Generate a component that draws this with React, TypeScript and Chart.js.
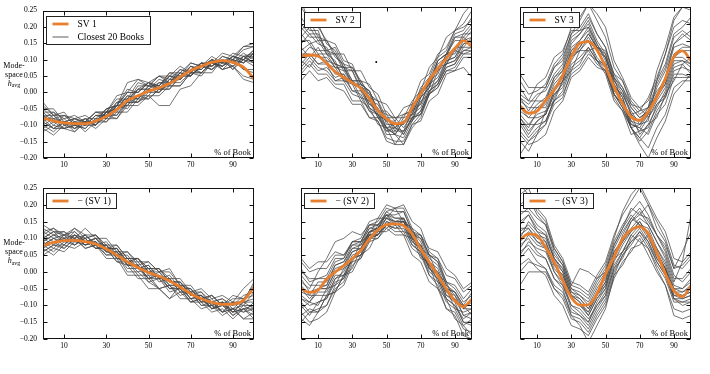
import React, { useEffect, useRef } from 'react';
import { Chart, registerables } from 'chart.js';

Chart.register(...registerables);

// ---------- data ----------
const X_PCT = [0, 5, 10, 15, 20, 25, 30, 35, 40, 45, 50, 55, 60, 65, 70, 75, 80, 85, 90, 95, 100];
const X_TICKS = [10, 30, 50, 70, 90];
const X_TICK_LABELS = ['10', '30', '50', '70', '90'];
const Y_TICKS = [-0.2, -0.15, -0.1, -0.05, 0, 0.05, 0.1, 0.15, 0.2, 0.25];
const Y_TICK_LABELS = ['\u22120.20', '\u22120.15', '\u22120.10', '\u22120.05', '0.00', '0.05', '0.10', '0.15', '0.20', '0.25'];
const X_LABEL = '% of Book';
const Y_LABEL_LINES = ['Mode-', 'space'];
const Y_LABEL_SYMBOL = 'h';
const Y_LABEL_SUB = 'avg';
const BOOKS_LABEL = 'Closest 20 Books';
const SERIES_LABELS = ['SV 1', 'SV 2', 'SV 3', '\u2212 (SV 1)', '\u2212 (SV 2)', '\u2212 (SV 3)'];

const SV1 = [-.078, -.087, -.093, -.095, -.095, -.087, -.073, -.052, -.025, -.010, .004, .014, .027, .047, .067, .080, .092, .097, .092, .077, .042];
const SV2 = [.102, .107, .104, .082, .057, .040, .024, .007, -.023, -.058, -.083, -.098, -.095, -.050, -.008, .032, .067, .097, .127, .150, .132];
const SV3 = [-.046, -.066, -.060, -.028, .002, .047, .102, .142, .147, .122, .072, .012, -.038, -.078, -.088, -.063, -.018, .037, .102, .119, .090];
const NEG_SV1 = [.078, .088, .093, .094, .090, .083, .068, .050, .030, .013, -.002, -.013, -.027, -.045, -.065, -.080, -.091, -.097, -.096, -.085, -.046];
const NEG_SV2 = [-.051, -.061, -.054, -.021, -.001, .019, .039, .064, .098, .125, .141, .143, .138, .113, .068, .029, -.011, -.051, -.086, -.104, -.081];
const NEG_SV3 = [.095, .113, .108, .073, .029, -.026, -.076, -.099, -.098, -.066, -.006, .044, .098, .125, .135, .113, .058, -.006, -.056, -.074, -.041];

const SV1_BOOKS = [
  [-.05, -.08, -.07, -.10, -.08, -.08, -.05, -.04, .00, .00, .03, .02, .05, .04, .07, .09, .08, .11, .10, .13, .14],
  [-.09, -.11, -.09, -.11, -.10, -.10, -.07, -.07, -.03, -.03, .00, .00, .03, .04, .07, .06, .09, .08, .10, .09, .12],
  [-.07, -.07, -.10, -.09, -.10, -.07, -.07, -.03, -.02, .01, .01, .03, .02, .06, .05, .08, .10, .09, .11, .10, .13],
  [-.11, -.09, -.11, -.10, -.11, -.08, -.09, -.06, -.06, -.02, -.02, .01, .01, .05, .05, .08, .08, .10, .07, .10, .09],
  [-.03, -.07, -.07, -.09, -.08, -.10, -.06, -.04, .03, .04, .02, .02, .06, .05, .08, .06, .09, .08, .11, .10, .13],
  [-.08, -.11, -.11, -.12, -.09, -.09, -.06, -.05, -.01, -.02, .01, .00, .04, .04, .07, .07, .10, .07, .08, .05, .04],
  [-.06, -.06, -.08, -.07, -.09, -.06, -.06, -.01, .00, .04, .03, .05, .04, .07, .06, .09, .08, .11, .10, .14, .15],
  [-.10, -.12, -.09, -.10, -.09, -.11, -.08, -.08, -.03, -.03, .01, .00, .03, .03, .06, .06, .09, .08, .11, .09, .12],
  [-.08, -.08, -.11, -.08, -.09, -.06, -.07, -.03, -.03, .01, .03, .01, .02, .02, .06, .06, .09, .07, .10, .07, .06],
  [-.04, -.07, -.06, -.10, -.09, -.10, -.06, -.07, -.02, -.02, .02, .02, .05, .05, .09, .08, .11, .09, .12, .11, .12],
  [-.12, -.10, -.11, -.10, -.11, -.08, -.08, -.04, -.04, -.01, -.02, .01, .01, .05, .05, .08, .07, .10, .08, .11, .09],
  [-.09, -.07, -.10, -.09, -.12, -.09, -.09, -.05, -.04, .01, .01, .04, .03, .06, .05, .08, .07, .09, .08, .10, .08],
  [-.07, -.10, -.07, -.08, -.07, -.09, -.06, -.06, -.02, -.03, -.01, -.04, -.04, .01, .02, .06, .06, .10, .09, .12, .10],
  [-.06, -.09, -.09, -.12, -.09, -.09, -.05, -.04, .00, .00, .03, .02, .06, .06, .09, .08, .10, .07, .08, .04, .03],
  [-.10, -.08, -.09, -.08, -.10, -.07, -.07, -.04, -.05, -.01, -.01, .03, .03, .06, .05, .09, .09, .12, .11, .14, .14],
  [-.08, -.06, -.10, -.09, -.10, -.07, -.08, -.04, -.03, .02, .02, .05, .03, .07, .06, .09, .07, .10, .07, .11, .11],
  [-.09, -.11, -.09, -.10, -.09, -.10, -.06, -.05, -.01, -.02, .02, .01, .04, .04, .08, .07, .10, .09, .11, .10, .12],
  [-.05, -.05, -.09, -.08, -.09, -.06, -.06, -.02, -.02, .03, .02, .05, .05, .08, .06, .09, .08, .10, .09, .11, .09],
  [-.11, -.13, -.10, -.11, -.08, -.10, -.07, -.08, -.04, -.04, -.01, -.01, .02, .02, .06, .05, .09, .08, .10, .09, .11],
  [-.07, -.09, -.08, -.11, -.09, -.09, -.05, -.04, .01, .00, .03, .01, .05, .04, .08, .07, .10, .09, .10, .07, .07],
];

const SV2_BOOKS = [
  [.20, .17, .17, .12, .11, .06, .06, .01, -.01, -.07, -.09, -.13, -.09, -.07, -.01, .02, .08, .10, .16, .17, .20],
  [.15, .15, .11, .11, .07, .06, .02, .01, -.05, -.07, -.12, -.12, -.12, -.06, -.04, .03, .05, .11, .12, .17, .17],
  [.25, .21, .20, .14, .12, .07, .06, .00, -.02, -.08, -.08, -.11, -.07, -.06, .01, .04, .10, .12, .18, .20, .24],
  [.08, .11, .08, .08, .03, .03, -.01, -.02, -.06, -.07, -.13, -.13, -.14, -.09, -.06, .00, .02, .07, .08, .12, .12],
  [.12, .14, .10, .10, .07, .07, .02, .02, -.03, -.04, -.09, -.09, -.13, -.08, -.07, -.01, .01, .06, .07, .11, .12],
  [.18, .21, .16, .15, .10, .08, .03, .03, -.01, -.03, -.08, -.08, -.08, -.03, .00, .07, .10, .16, .18, .23, .26],
  [.05, .08, .05, .05, .02, .02, -.03, -.03, -.08, -.09, -.14, -.15, -.15, -.10, -.09, -.03, -.01, .05, .06, .10, .10],
  [.10, .13, .12, .12, .08, .07, .03, .03, -.02, -.03, -.10, -.10, -.10, -.04, -.02, .04, .06, .11, .11, .16, .14],
  [.22, .18, .18, .11, .09, .03, .02, -.03, -.05, -.10, -.11, -.13, -.09, -.09, -.03, -.01, .06, .08, .13, .13, .16],
  [.14, .17, .14, .13, .08, .07, .02, .01, -.04, -.05, -.11, -.13, -.16, -.10, -.07, .00, .03, .09, .10, .14, .15],
  [.09, .07, .11, .08, .07, .03, .03, .01, .00, -.06, -.06, -.09, -.05, -.04, .03, .05, .11, .13, .18, .19, .21],
  [.17, .14, .15, .11, .11, .07, .07, .02, .00, -.06, -.07, -.11, -.09, -.08, -.02, .01, .07, .08, .12, .11, .11],
  [.03, .06, .03, .04, .01, .00, -.04, -.04, -.08, -.08, -.12, -.11, -.12, -.08, -.07, -.01, .01, .06, .06, .07, .04],
  [.13, .10, .13, .09, .08, .04, .03, -.02, -.03, -.08, -.11, -.16, -.12, -.09, -.02, .01, .09, .11, .17, .18, .22],
  [.19, .16, .16, .12, .13, .08, .07, .03, .02, -.03, -.04, -.08, -.07, -.06, .00, .03, .09, .11, .16, .16, .19],
  [.07, .10, .07, .06, .03, .04, .00, .00, -.05, -.07, -.11, -.11, -.13, -.08, -.06, .00, .02, .07, .08, .13, .13],
  [.27, .20, .19, .15, .14, .09, .08, .02, .00, -.06, -.08, -.12, -.08, -.07, -.01, .02, .09, .11, .15, .15, .18],
  [.11, .11, .08, .09, .05, .05, .02, .01, -.04, -.06, -.11, -.10, -.10, -.05, -.04, .02, .04, .09, .10, .15, .16],
  [.16, .19, .15, .15, .11, .11, .06, .06, .01, -.01, -.07, -.08, -.11, -.07, -.05, .01, .03, .08, .09, .12, .13],
  [.06, .09, .06, .07, .04, .05, .00, -.01, -.06, -.09, -.15, -.16, -.16, -.11, -.08, -.01, .02, .08, .09, .14, .15],
];

const SV3_BOOKS = [
  [-.02, -.06, -.02, .01, .07, .09, .17, .19, .23, .17, .13, .04, .00, -.07, -.09, -.05, .02, .07, .16, .18, .16],
  [-.10, -.14, -.11, -.09, -.03, .00, .07, .09, .12, .08, .06, -.02, -.06, -.11, -.15, -.12, -.06, -.02, .06, .07, .06],
  [.03, -.01, .00, .02, .08, .11, .19, .22, .26, .21, .16, .07, .03, -.03, -.06, -.02, .04, .11, .21, .25, .24],
  [-.07, -.10, -.07, -.06, .00, .03, .10, .12, .15, .10, .07, -.01, -.04, -.09, -.12, -.08, -.03, .01, .09, .09, .07],
  [-.15, -.18, -.13, -.10, -.04, -.02, .06, .08, .13, .09, .07, .00, -.03, -.11, -.14, -.17, -.11, -.07, .01, .03, .03],
  [-.04, -.07, -.04, -.02, .04, .06, .13, .15, .18, .12, .08, .01, -.01, -.07, -.06, -.05, .06, .13, .22, .25, .26],
  [-.01, -.03, .02, .04, .10, .12, .18, .18, .19, .13, .11, .04, .01, -.04, -.07, -.05, .00, .03, .10, .10, .08],
  [-.09, -.13, -.09, -.07, -.01, .02, .09, .13, .17, .13, .10, .02, -.02, -.10, -.11, -.07, -.02, .02, .10, .12, .12],
  [-.19, -.15, -.13, -.06, -.03, .03, .06, .12, .12, .13, .07, .04, -.04, -.07, -.13, -.10, -.08, -.01, .03, .08, .05],
  [.01, -.03, -.03, -.03, .03, .06, .14, .17, .21, .15, .11, .03, -.01, -.06, -.10, -.07, -.01, .04, .13, .14, .13],
  [-.06, -.08, -.08, -.07, .00, .04, .12, .14, .15, .09, .05, -.03, -.06, -.13, -.12, -.11, -.04, -.01, .07, .08, .10],
  [-.12, -.15, -.12, -.10, -.02, .03, .11, .12, .16, .12, .10, .03, .00, -.05, -.08, -.06, .01, .06, .14, .16, .18],
  [-.03, -.05, -.05, -.05, .01, .04, .11, .13, .17, .13, .12, .05, .03, -.04, -.05, -.08, -.04, -.02, .05, .05, .04],
  [-.08, -.11, -.06, -.04, .02, .05, .12, .15, .19, .14, .10, .02, -.02, -.09, -.10, -.06, -.02, .04, .14, .17, .15],
  [.05, .01, .01, .01, .07, .10, .17, .21, .26, .23, .19, .09, .04, -.02, -.05, -.03, .03, .08, .17, .19, .22],
  [-.10, -.10, -.10, -.09, -.03, -.01, .05, .07, .11, .09, .08, .01, -.03, -.11, -.16, -.20, -.14, -.09, -.01, .02, .05],
  [-.05, -.08, -.05, -.03, .04, .07, .15, .17, .20, .14, .09, -.01, -.05, -.11, -.10, -.09, .03, .11, .19, .21, .20],
  [-.13, -.16, -.15, -.13, -.06, -.03, .04, .06, .10, .07, .06, -.01, -.04, -.10, -.11, -.13, -.07, -.04, .04, .04, .04],
  [-.02, -.04, -.01, .00, .05, .08, .16, .18, .22, .17, .13, .05, .01, -.05, -.08, -.06, -.01, .02, .11, .13, .13],
  [-.08, -.12, -.09, -.07, -.01, .01, .08, .10, .13, .09, .06, -.01, -.05, -.11, -.14, -.10, -.05, .00, .08, .09, .08],
];

const NEG_SV1_BOOKS = [
  [.10, .12, .09, .11, .10, .11, .07, .07, .03, .03, -.01, -.01, -.04, -.04, -.08, -.07, -.10, -.09, -.12, -.11, -.13],
  [.06, .08, .07, .10, .07, .08, .05, .05, .00, .00, -.03, -.02, -.06, -.05, -.09, -.08, -.11, -.10, -.11, -.08, -.07],
  [.13, .11, .12, .10, .11, .08, .08, .04, .04, .01, .02, -.02, -.01, -.05, -.05, -.09, -.09, -.12, -.11, -.14, -.12],
  [.08, .10, .09, .12, .09, .09, .05, .06, .02, .02, -.02, -.01, -.05, -.05, -.08, -.07, -.09, -.08, -.10, -.07, -.06],
  [.05, .07, .06, .09, .08, .10, .07, .07, .03, .04, .01, .01, -.03, -.03, -.07, -.07, -.10, -.09, -.12, -.11, -.14],
  [.11, .09, .10, .08, .11, .08, .08, .04, .03, -.01, -.01, -.05, -.04, -.07, -.06, -.10, -.10, -.13, -.11, -.12, -.09],
  [.09, .11, .10, .13, .10, .11, .07, .08, .04, .04, .00, .01, -.02, -.02, -.06, -.05, -.08, -.07, -.09, -.05, -.02],
  [.07, .09, .07, .10, .07, .08, .04, .04, -.01, -.01, -.05, -.05, -.08, -.06, -.09, -.08, -.11, -.09, -.12, -.09, -.08],
  [.12, .10, .11, .08, .10, .07, .08, .05, .06, .03, .03, .00, .00, -.04, -.04, -.08, -.07, -.10, -.09, -.12, -.11],
  [.08, .10, .08, .11, .09, .10, .07, .07, .02, .02, -.02, -.02, -.05, -.05, -.09, -.09, -.12, -.11, -.14, -.11, -.10],
  [.10, .08, .11, .10, .13, .10, .10, .06, .06, .02, .03, .00, .01, -.04, -.05, -.09, -.07, -.10, -.08, -.08, -.04],
  [.06, .08, .08, .11, .08, .09, .06, .05, .01, .01, -.02, .00, -.03, -.03, -.06, -.06, -.10, -.09, -.10, -.09, -.11],
  [.11, .13, .11, .12, .09, .10, .06, .06, .02, .02, -.03, -.05, -.08, -.04, -.07, -.07, -.11, -.10, -.12, -.09, -.09],
  [.09, .07, .10, .09, .10, .07, .07, .03, .03, .00, .01, -.03, -.02, -.06, -.06, -.10, -.09, -.12, -.09, -.10, -.06],
  [.14, .12, .12, .09, .11, .08, .09, .05, .05, .01, .01, -.02, -.02, -.06, -.06, -.09, -.08, -.12, -.11, -.14, -.14],
  [.07, .05, .08, .07, .09, .07, .08, .04, .04, .01, .02, -.02, -.02, -.05, -.05, -.08, -.07, -.10, -.07, -.08, -.05],
  [.10, .12, .11, .13, .11, .11, .08, .08, .04, .04, .01, .01, -.03, -.03, -.07, -.07, -.11, -.09, -.13, -.11, -.11],
  [.08, .06, .09, .08, .10, .07, .07, .03, .02, -.02, -.02, -.05, -.04, -.08, -.08, -.11, -.10, -.12, -.09, -.09, -.03],
  [.12, .13, .10, .11, .08, .09, .06, .07, .03, .04, .00, .00, -.04, -.04, -.07, -.06, -.09, -.08, -.11, -.10, -.10],
  [.09, .11, .09, .10, .08, .09, .06, .06, .02, .02, -.02, -.01, -.05, -.04, -.08, -.08, -.11, -.10, -.13, -.10, -.12],
];

const NEG_SV2_BOOKS = [
  [-.10, -.13, -.09, -.08, -.03, -.02, .04, .06, .12, .13, .17, .16, .16, .10, .08, .02, -.01, -.07, -.09, -.15, -.16],
  [.03, .00, .01, .01, .05, .05, .08, .08, .12, .12, .16, .15, .16, .11, .10, .05, .04, -.01, -.02, -.06, -.04],
  [-.15, -.12, -.12, -.07, -.06, -.01, .01, .07, .09, .14, .13, .15, .12, .11, .05, .02, -.05, -.08, -.14, -.16, -.19],
  [-.05, -.08, -.05, -.04, .01, .02, .06, .07, .12, .13, .18, .19, .20, .15, .13, .06, .04, -.03, -.05, -.09, -.07],
  [-.08, -.10, -.09, -.08, -.02, .00, .05, .06, .11, .11, .14, .12, .12, .07, .05, -.01, -.03, -.09, -.11, -.16, -.14],
  [.01, -.03, -.02, -.01, .04, .04, .09, .09, .14, .15, .19, .18, .18, .12, .10, .04, .02, -.04, -.06, -.11, -.09],
  [-.12, -.15, -.14, -.12, -.06, -.04, .02, .04, .10, .11, .15, .14, .15, .10, .08, .02, .00, -.06, -.08, -.13, -.12],
  [-.03, -.05, .00, .04, .09, .10, .12, .11, .14, .14, .17, .14, .14, .09, .07, .01, -.01, -.06, -.07, -.11, -.11],
  [-.07, -.09, -.06, -.06, -.01, -.01, .04, .05, .10, .10, .13, .11, .11, .05, .03, -.03, -.05, -.11, -.12, -.17, -.18],
  [-.02, -.06, -.05, -.05, .00, .02, .07, .08, .13, .14, .17, .15, .15, .10, .08, .02, .00, -.05, -.06, -.10, -.06],
  [-.11, -.09, -.10, -.05, -.04, .01, .03, .09, .11, .16, .16, .19, .15, .13, .07, .05, -.01, -.03, -.09, -.10, -.13],
  [.04, .01, .03, .03, .06, .05, .09, .09, .13, .13, .16, .14, .15, .11, .11, .07, .06, .01, -.01, -.05, -.03],
  [-.14, -.16, -.12, -.10, -.05, -.03, .03, .04, .09, .10, .14, .13, .14, .08, .06, -.01, -.04, -.11, -.13, -.19, -.20],
  [-.06, -.07, -.03, -.03, .02, .03, .08, .09, .14, .14, .18, .16, .16, .10, .07, .01, -.02, -.08, -.10, -.14, -.12],
  [-.09, -.12, -.11, -.10, -.04, -.02, .04, .05, .11, .12, .16, .15, .15, .09, .07, .01, -.01, -.07, -.08, -.11, -.08],
  [.00, -.02, -.02, -.02, .03, .04, .09, .10, .15, .16, .20, .19, .19, .13, .11, .05, .03, -.03, -.04, -.08, -.05],
  [-.04, -.07, -.07, -.07, -.02, -.01, .04, .05, .10, .11, .14, .13, .13, .08, .06, .00, -.02, -.08, -.10, -.15, -.15],
  [-.13, -.11, -.12, -.07, -.06, -.01, .00, .05, .07, .12, .12, .14, .11, .10, .04, .03, -.03, -.05, -.11, -.12, -.11],
  [-.08, -.09, -.05, -.05, .00, .01, .06, .07, .12, .13, .17, .17, .18, .12, .09, .03, .01, -.05, -.06, -.10, -.10],
  [-.01, -.04, -.04, -.04, .02, .03, .07, .07, .11, .11, .15, .14, .16, .12, .11, .05, .03, -.04, -.07, -.13, -.14],
];

const NEG_SV3_BOOKS = [
  [.14, .17, .13, .11, .04, .00, -.07, -.08, -.11, -.06, -.02, .06, .10, .15, .18, .14, .09, .04, -.04, -.05, -.03],
  [.05, .09, .07, .06, .00, -.03, -.10, -.12, -.15, -.10, -.06, .02, .06, .09, .11, .07, .02, -.02, -.09, -.09, -.08],
  [.20, .22, .17, .14, .06, .02, -.05, -.06, -.08, -.03, .01, .09, .14, .18, .21, .17, .11, .06, -.02, -.02, .01],
  [.09, .12, .09, .07, .00, -.04, -.11, -.13, -.16, -.11, -.07, .01, .04, .10, .13, .09, .04, .00, -.07, -.08, -.07],
  [.23, .25, .19, .16, .08, .04, -.03, -.04, -.06, -.01, .03, .11, .17, .21, .25, .20, .15, .10, .02, .01, .04],
  [.02, .04, .01, -.01, -.07, -.10, -.16, -.17, -.19, -.14, -.10, -.02, .03, .06, .10, .05, .00, -.04, -.11, -.12, -.11],
  [.12, .14, .11, .10, .04, .01, -.06, -.07, -.10, -.05, -.01, .07, .12, .16, .19, .15, .11, .08, .01, .02, .05],
  [.07, .11, .08, .07, .01, -.02, -.08, -.10, -.13, -.08, -.04, .04, .09, .12, .15, .11, .06, .01, -.07, -.07, -.06],
  [.17, .19, .16, .14, .07, .03, -.04, .01, .00, -.02, .00, .08, .13, .17, .14, .13, .07, .02, -.06, -.07, -.06],
  [.04, .07, .03, .01, -.05, -.08, -.14, -.15, -.18, -.13, -.09, -.01, .02, .07, .08, .11, .04, .01, -.06, -.06, -.05],
  [.10, .15, .12, .11, .04, .01, -.06, -.08, -.11, -.07, -.04, .04, .11, .16, .14, .12, .06, .01, -.08, -.10, -.09],
  [.00, .03, .02, .01, -.04, -.06, -.12, -.13, -.15, -.09, -.05, .04, .06, .11, .14, .10, .05, .01, -.05, -.06, -.04],
  [.15, .17, .12, .09, .02, -.01, -.08, -.10, -.12, -.07, -.03, .06, .09, .15, .17, .20, .13, .09, .01, .06, .12],
  [.08, .10, .06, .04, -.02, -.04, -.10, -.11, -.14, -.10, -.07, .01, .06, .11, .09, .07, .01, -.04, -.13, -.14, -.13],
  [.26, .23, .18, .15, .07, .03, -.04, -.05, -.07, -.02, .02, .10, .18, .23, .26, .21, .16, .12, .04, .03, .06],
  [.06, .08, .05, .04, -.02, -.05, -.13, -.16, -.21, -.16, -.11, -.01, .05, .09, .12, .08, .03, -.01, -.08, -.08, -.07],
  [.11, .13, .09, .08, .02, -.01, -.07, -.09, -.12, -.07, -.03, .05, .09, .13, .16, .14, .09, .05, -.03, .03, .17],
  [-.04, .00, .00, .00, -.05, -.07, -.13, -.14, -.17, -.12, -.08, .00, .05, .08, .12, .09, .03, -.01, -.08, -.09, -.09],
  [.18, .18, .14, .12, .05, .02, -.05, -.07, -.09, -.04, .00, .08, .13, .19, .17, .16, .11, .07, -.01, -.03, .00],
  [.13, .13, .10, .09, .03, .00, -.07, -.09, -.13, -.08, -.05, .03, .08, .12, .15, .11, .07, .03, -.05, -.05, -.02],
];

// the stray dot in the SV 2 panel
const SV2_DOT_X = [44];
const SV2_DOT_Y = [0.086];

const MAIN_SERIES = [SV1, SV2, SV3, NEG_SV1, NEG_SV2, NEG_SV3];
const BOOK_SERIES = [SV1_BOOKS, SV2_BOOKS, SV3_BOOKS, NEG_SV1_BOOKS, NEG_SV2_BOOKS, NEG_SV3_BOOKS];

// ---------- layout / style ----------
const W = 710;
const H = 374;
const COL_LEFT = [43, 261, 480];
const ROW_TOP = [7, 188];
const PLOT_W = 211;
const PLOT_H = 151;
const Y_AXIS_W = 40;
const X_AXIS_H = 16;
const ORANGE = '#e87f2e';
const GRAY = 'rgba(72,72,72,0.8)';
const SERIF = "'Liberation Serif', 'DejaVu Serif', serif";
const TICK_FONT = 7.5;
const LEGEND_FONT = 9.5;

function makeChart(canvas: HTMLCanvasElement, idx: number) {
  const col = idx % 3;
  const row = Math.floor(idx / 3);
  const L = COL_LEFT[col];
  const T = ROW_TOP[row];
  const showY = col === 0;
  const showBooksLegend = idx === 0;
  const main = MAIN_SERIES[idx];
  const books = BOOK_SERIES[idx];

  const datasets: any[] = [
    {
      label: SERIES_LABELS[idx],
      data: X_PCT.map((x, i) => ({ x, y: main[i] })),
      borderColor: ORANGE,
      borderWidth: 2.8,
      pointRadius: 0,
      tension: 0.4,
      cubicInterpolationMode: 'monotone',
      order: 0,
    },
    ...books.map((b, k) => ({
      label: k === 0 ? BOOKS_LABEL : '',
      data: X_PCT.map((x, i) => ({ x, y: b[i] })),
      borderColor: GRAY,
      borderWidth: 0.95,
      pointRadius: 0,
      tension: 0,
      order: 1,
    })),
  ];
  if (idx === 1) {
    datasets.push({
      label: '',
      data: SV2_DOT_X.map((x, i) => ({ x, y: SV2_DOT_Y[i] })),
      showLine: false,
      pointRadius: 1,
      pointBackgroundColor: '#000',
      pointBorderWidth: 0,
      order: 2,
    });
  }

  const decor = {
    id: 'decor' + idx,
    afterDraw(chart: any) {
      const { ctx, chartArea: a, scales } = chart;
      ctx.save();
      ctx.strokeStyle = '#111';
      ctx.lineWidth = 1;
      const line = (x1: number, y1: number, x2: number, y2: number) => {
        ctx.beginPath();
        ctx.moveTo(x1, y1);
        ctx.lineTo(x2, y2);
        ctx.stroke();
      };
      const l = Math.round(a.left) + 0.5;
      const r = Math.round(a.right) - 0.5;
      const t = Math.round(a.top) + 0.5;
      const b = Math.round(a.bottom) - 0.5;
      ctx.strokeRect(l, t, r - l, b - t);
      X_TICKS.forEach((v) => {
        const px = Math.round(scales.x.getPixelForValue(v)) + 0.5;
        line(px, b, px, b - 4);
        line(px, t, px, t + 4);
      });
      Y_TICKS.forEach((v) => {
        const py = Math.round(scales.y.getPixelForValue(v)) + 0.5;
        line(l, py, l + 4, py);
        line(r, py, r - 4, py);
      });

      // x label inside the plot
      ctx.fillStyle = '#000';
      ctx.font = `8.5px ${SERIF}`;
      ctx.textAlign = 'right';
      ctx.textBaseline = 'alphabetic';
      ctx.fillText(X_LABEL, a.right - 3, a.bottom - 3);

      // legend
      ctx.font = `${LEGEND_FONT}px ${SERIF}`;
      ctx.textBaseline = 'middle';
      ctx.textAlign = 'left';
      const entries = showBooksLegend
        ? [{ text: SERIES_LABELS[idx], color: ORANGE, w: 2.8 }, { text: BOOKS_LABEL, color: 'rgb(120,120,120)', w: 1.2 }]
        : [{ text: SERIES_LABELS[idx], color: ORANGE, w: 2.8 }];
      const maxW = Math.max(...entries.map((e) => ctx.measureText(e.text).width));
      const bx = Math.round(a.left) + 3.5;
      const by = Math.round(a.top) + 5.5;
      const rowH = 13;
      const bw = Math.round(31 + maxW + 6);
      const bh = entries.length === 1 ? 15 : 28;
      ctx.fillStyle = '#fff';
      ctx.fillRect(bx, by, bw, bh);
      ctx.strokeStyle = '#222';
      ctx.lineWidth = 1;
      ctx.strokeRect(bx, by, bw, bh);
      entries.forEach((e, k) => {
        const cy = by + 7.5 + k * rowH;
        ctx.strokeStyle = e.color;
        ctx.lineWidth = e.w;
        line(bx + 6, cy, bx + 22, cy);
        ctx.fillStyle = '#000';
        ctx.fillText(e.text, bx + 31, cy + 0.5);
      });

      // y label
      if (showY) {
        const cx = 14;
        ctx.fillStyle = '#000';
        ctx.textAlign = 'center';
        ctx.textBaseline = 'middle';
        ctx.font = `8px ${SERIF}`;
        Y_LABEL_LINES.forEach((s, k) => ctx.fillText(s, cx, a.top + 55 + k * 9));
        ctx.font = `italic 8px ${SERIF}`;
        const hw = ctx.measureText(Y_LABEL_SYMBOL).width;
        ctx.font = `6px ${SERIF}`;
        const sw = ctx.measureText(Y_LABEL_SUB).width;
        const start = cx - (hw + sw) / 2;
        ctx.textAlign = 'left';
        ctx.font = `italic 8px ${SERIF}`;
        ctx.fillText(Y_LABEL_SYMBOL, start, a.top + 73);
        ctx.font = `6px ${SERIF}`;
        ctx.fillText(Y_LABEL_SUB, start + hw, a.top + 75);
      }
      ctx.restore();
    },
  };

  return new Chart(canvas, {
    type: 'line',
    data: { datasets },
    plugins: [decor],
    options: {
      animation: false,
      responsive: false,
      devicePixelRatio: 1,
      events: [],
      layout: {
        padding: {
          left: showY ? L - Y_AXIS_W : L,
          top: T,
          right: W - (L + PLOT_W),
          bottom: H - (T + PLOT_H) - X_AXIS_H,
        },
      },
      plugins: { legend: { display: false }, tooltip: { enabled: false }, title: { display: false } },
      scales: {
        x: {
          type: 'linear',
          min: 0,
          max: 100,
          grid: { display: false, drawTicks: false },
          border: { display: false },
          ticks: {
            autoSkip: false,
            maxRotation: 0,
            padding: 3,
            color: '#000',
            font: { family: SERIF, size: TICK_FONT },
            callback: (_v: any, i: number) => X_TICK_LABELS[i],
          },
          afterBuildTicks: (s: any) => {
            s.ticks = X_TICKS.map((v) => ({ value: v }));
          },
          afterFit: (s: any) => {
            s.height = X_AXIS_H;
          },
        },
        y: {
          type: 'linear',
          display: showY,
          min: -0.2,
          max: 0.25,
          grid: { display: false, drawTicks: false },
          border: { display: false },
          ticks: {
            autoSkip: false,
            padding: 6,
            color: '#000',
            font: { family: SERIF, size: TICK_FONT },
            callback: (_v: any, i: number) => Y_TICK_LABELS[i],
          },
          afterBuildTicks: (s: any) => {
            s.ticks = Y_TICKS.map((v) => ({ value: v }));
          },
          afterFit: (s: any) => {
            s.width = Y_AXIS_W;
          },
        },
      },
    } as any,
  });
}

export default function App() {
  const refs = useRef<(HTMLCanvasElement | null)[]>([]);
  useEffect(() => {
    const charts = MAIN_SERIES.map((_, i) => makeChart(refs.current[i] as HTMLCanvasElement, i));
    return () => charts.forEach((c) => c.destroy());
  }, []);
  return (
    <div style={{ position: 'fixed', left: 0, top: 0, width: W, height: H, background: '#fff' }}>
      {MAIN_SERIES.map((_, i) => (
        <canvas
          key={i}
          ref={(el) => {
            refs.current[i] = el;
          }}
          width={W}
          height={H}
          style={{ position: 'absolute', left: 0, top: 0, width: W, height: H }}
        />
      ))}
    </div>
  );
}
